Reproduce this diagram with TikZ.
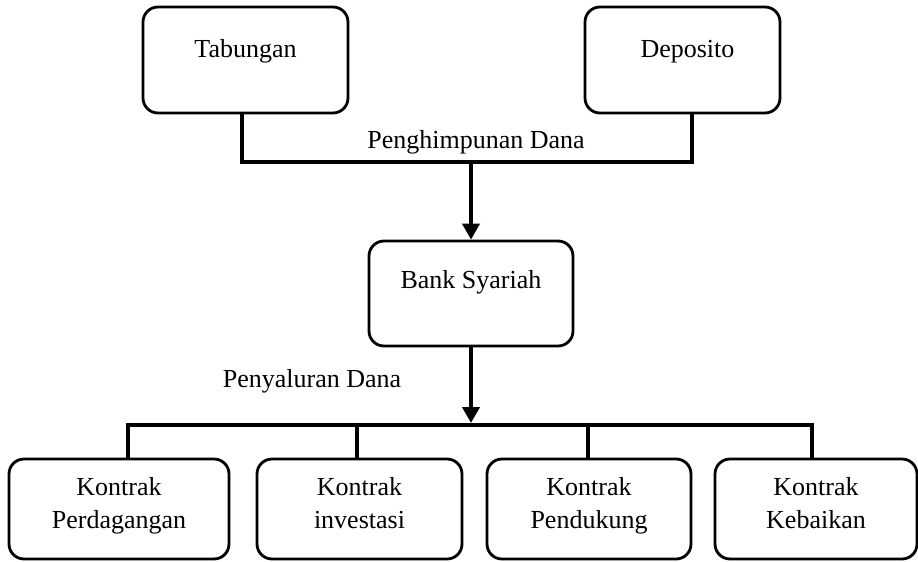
\documentclass[tikz,border=0pt]{standalone}
\usepackage{fontspec}
\setmainfont{Liberation Serif}
\usetikzlibrary{arrows.meta}
\begin{document}
\begin{tikzpicture}[x=1pt,y=-1pt,
  font=\fontsize{26}{33}\selectfont,
  box/.style={draw, line width=2.8pt, rounded corners=15pt, inner sep=0pt},
  conn/.style={line width=4.5pt, line join=miter},
  flow/.style={conn, -{Triangle[width=17pt,length=16pt]}},
  lbl/.style={inner sep=0pt, align=center, text height=18pt, text depth=6pt},
  lbltwo/.style={inner sep=0pt, align=center}]
\useasboundingbox (0,0) rectangle (918,562);

% sources of funds
\node[box, minimum width=205pt, minimum height=106pt,
      label={[lbl, yshift=9pt]center:Tabungan}] (tab) at (245.5,60) {};
\node[box, minimum width=195pt, minimum height=106pt,
      label={[lbl, xshift=5pt, yshift=9pt]center:Deposito}] (dep) at (682.5,60) {};

% the bank
\node[box, minimum width=204pt, minimum height=105pt,
      label={[lbl, yshift=11.5pt]center:Bank Syariah}] (bank) at (471,293.5) {};

% uses of funds (two struts keep every label block the same size)
\node[box, minimum width=220pt, minimum height=100pt,
      label={[lbltwo, yshift=4pt]center:\strut Kontrak\\\strut Perdagangan}] (k1) at (119,509) {};
\node[box, minimum width=205pt, minimum height=100pt,
      label={[lbltwo, yshift=4pt]center:\strut Kontrak\\\strut investasi}] (k2) at (359.5,509) {};
\node[box, minimum width=204pt, minimum height=100pt,
      label={[lbltwo, yshift=4pt]center:\strut Kontrak\\\strut Pendukung}] (k3) at (589,509) {};
\node[box, minimum width=202pt, minimum height=100pt,
      label={[lbltwo, yshift=4pt]center:\strut Kontrak\\\strut Kebaikan}] (k4) at (816,509) {};

% junction points of the two buses
\coordinate (hubA) at (471,162);
\coordinate (hubB) at (471,425);

% collecting funds
\draw[conn] ([xshift=-3.5pt]tab.south) |- (hubA) -| ([xshift=9.5pt]dep.south);
\draw[flow] ([yshift=-2pt]hubA) -- (bank.north);
\node[inner sep=0pt, anchor=base] (collect) at (476,148) {Penghimpunan Dana};

% distributing funds
\draw[flow] (bank.south) -- ([yshift=2pt]hubB);
\draw[conn] ([xshift=9pt]k1.north) |- (hubB) -| ([xshift=-4pt]k4.north);
\draw[conn] ([xshift=-2.5pt]k2.north) -- ([xshift=-2.5pt]k2.north |- hubB);
\draw[conn] ([xshift=-1pt]k3.north) -- ([xshift=-1pt]k3.north |- hubB);
\node[inner sep=0pt, anchor=base] (distribute) at (312,387) {Penyaluran Dana};
\end{tikzpicture}
\end{document}
